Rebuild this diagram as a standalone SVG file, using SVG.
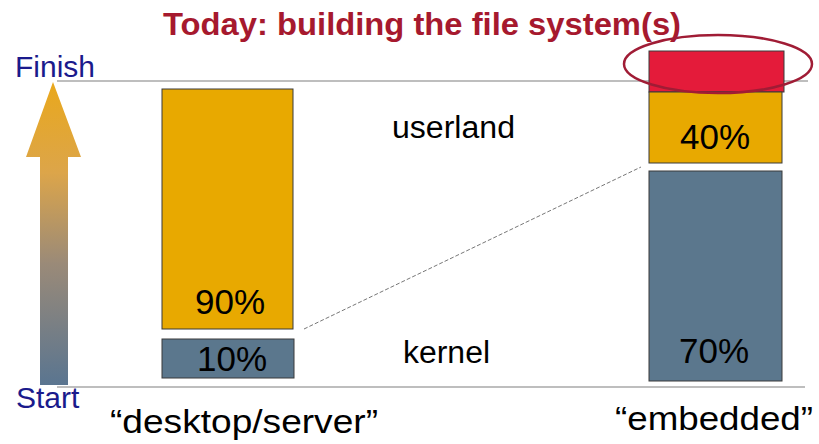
<svg xmlns="http://www.w3.org/2000/svg" width="819" height="444" viewBox="0 0 819 444">
<style>
.t{font-family:"Liberation Sans",Arial,sans-serif;fill:#000}
.pct{font-size:35px;text-anchor:middle}
.lbl{font-size:31px}
.axis{font-family:"Liberation Sans",Arial,sans-serif;font-size:30px;fill:#1a1a8c}
.bar{stroke:#3a3a3a;stroke-width:1}
.org{fill:#e8a900}
.blu{fill:#5b778d}
.ref{stroke:#a8a8a8;stroke-width:1.5}
</style>
<defs>
<linearGradient id="g" x1="0" y1="0" x2="0" y2="1">
<stop offset="0" stop-color="#e9a81c"/>
<stop offset="0.3" stop-color="#dca54a"/>
<stop offset="0.6" stop-color="#9a8a78"/>
<stop offset="1" stop-color="#5a7590"/>
</linearGradient>
</defs>
<rect width="819" height="444" fill="#fff"/>
<text x="422" y="35" text-anchor="middle" textLength="518" lengthAdjust="spacingAndGlyphs" style="font-family:'Liberation Sans',Arial,sans-serif;font-weight:bold;font-size:31px;fill:#a6192e">Today: building the file system(s)</text>
<line class="ref" x1="57" y1="81" x2="808" y2="81"/>
<line class="ref" x1="57" y1="387" x2="805" y2="387"/>
<g id="arrow">
<polygon points="53,82 81,157 68,157 68,385 40,385 40,157 26,157" fill="url(#g)"/>
<text class="axis" x="15" y="77">Finish</text>
<text class="axis" x="16" y="408">Start</text>
</g>
<g id="connectors">
<line x1="304" y1="329" x2="641" y2="167" stroke="#777" stroke-width="1" stroke-dasharray="4,2"/>
</g>
<g id="desktop-userland">
<rect class="bar org" x="162" y="89" width="131" height="240"/>
<text class="t pct" x="230" y="314">90%</text>
</g>
<g id="desktop-kernel">
<rect class="bar blu" x="162" y="339" width="132" height="39"/>
<text class="t pct" x="232" y="371">10%</text>
</g>
<g id="embedded-extra">
<rect class="bar" x="649" y="51" width="135" height="41" fill="#e41b3a"/>
</g>
<g id="embedded-userland">
<rect class="bar org" x="649" y="92" width="133" height="71"/>
<text class="t pct" x="715" y="149">40%</text>
</g>
<g id="embedded-kernel">
<rect class="bar blu" x="649" y="171" width="133" height="210"/>
<text class="t pct" x="714" y="363">70%</text>
</g>
<g id="highlight">
<ellipse cx="718" cy="64" rx="94" ry="29" fill="none" stroke="#a01c35" stroke-width="2.5"/>
</g>
<g id="labels">
<text class="t lbl" x="392" y="138" textLength="123" lengthAdjust="spacingAndGlyphs">userland</text>
<text class="t lbl" x="403" y="363" textLength="87" lengthAdjust="spacingAndGlyphs">kernel</text>
<text class="t" x="110" y="433" font-size="34" textLength="268" lengthAdjust="spacingAndGlyphs">“desktop/server”</text>
<text class="t" x="615" y="430" font-size="34" textLength="198" lengthAdjust="spacingAndGlyphs">“embedded”</text>
</g>
</svg>
